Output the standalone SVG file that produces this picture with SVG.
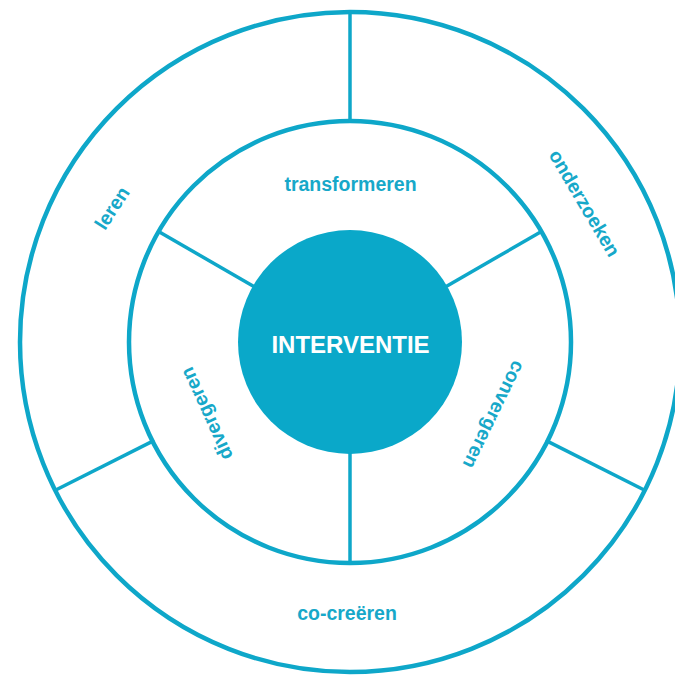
<svg xmlns="http://www.w3.org/2000/svg" width="675" height="675" viewBox="0 0 675 675">
  <style>
    .ring { fill: none; stroke: #0ea7c9; stroke-width: 4.5; }
    .div { stroke: #0ea7c9; stroke-width: 3.5; stroke-linecap: butt; }
    .lbl { font-family: "Liberation Sans", Arial, sans-serif; font-weight: bold; font-size: 19.5px; fill: #17a8c9; text-anchor: middle; }
    .core-lbl { font-family: "Liberation Sans", Arial, sans-serif; font-weight: bold; font-size: 24px; fill: #ffffff; text-anchor: middle; }
  </style>
  <rect width="675" height="675" fill="#ffffff"/>

  <g id="outer-ring">
    <circle class="ring" cx="350" cy="342" r="330"/>
  </g>
  <g id="inner-ring">
    <circle class="ring" cx="350" cy="342" r="221"/>
  </g>

  <g id="connectors">
    <line class="div" x1="350" y1="12" x2="350" y2="121"/>
    <line class="div" x1="350" y1="452" x2="350" y2="563"/>
    <line class="div" x1="157.7" y1="231" x2="254.7" y2="287"/>
    <line class="div" x1="542.3" y1="231" x2="445.3" y2="287"/>
    <line class="div" x1="154.3" y1="440.4" x2="54.3" y2="490.7"/>
    <line class="div" x1="545.7" y1="440.4" x2="645.7" y2="490.7"/>
  </g>

  <g id="interventie">
    <circle cx="350" cy="342" r="112" fill="#0aa8c9"/>
    <text class="core-lbl" x="350.5" y="352.5">INTERVENTIE</text>
  </g>

  <g id="transformeren">
    <text class="lbl" x="350.5" y="191">transformeren</text>
  </g>
  <g id="divergeren">
    <text class="lbl" transform="translate(208,413) rotate(-114.5)" x="0" y="5">divergeren</text>
  </g>
  <g id="convergeren">
    <text class="lbl" transform="translate(492.5,414) rotate(116)" x="0" y="5">convergeren</text>
  </g>

  <g id="leren">
    <text class="lbl" transform="translate(113.5,209) rotate(-57)" x="0" y="5">leren</text>
  </g>
  <g id="onderzoeken">
    <text class="lbl" transform="translate(583,204) rotate(59.5)" x="0" y="5">onderzoeken</text>
  </g>
  <g id="co-creeren">
    <text class="lbl" x="347" y="620">co-creëren</text>
  </g>
</svg>
